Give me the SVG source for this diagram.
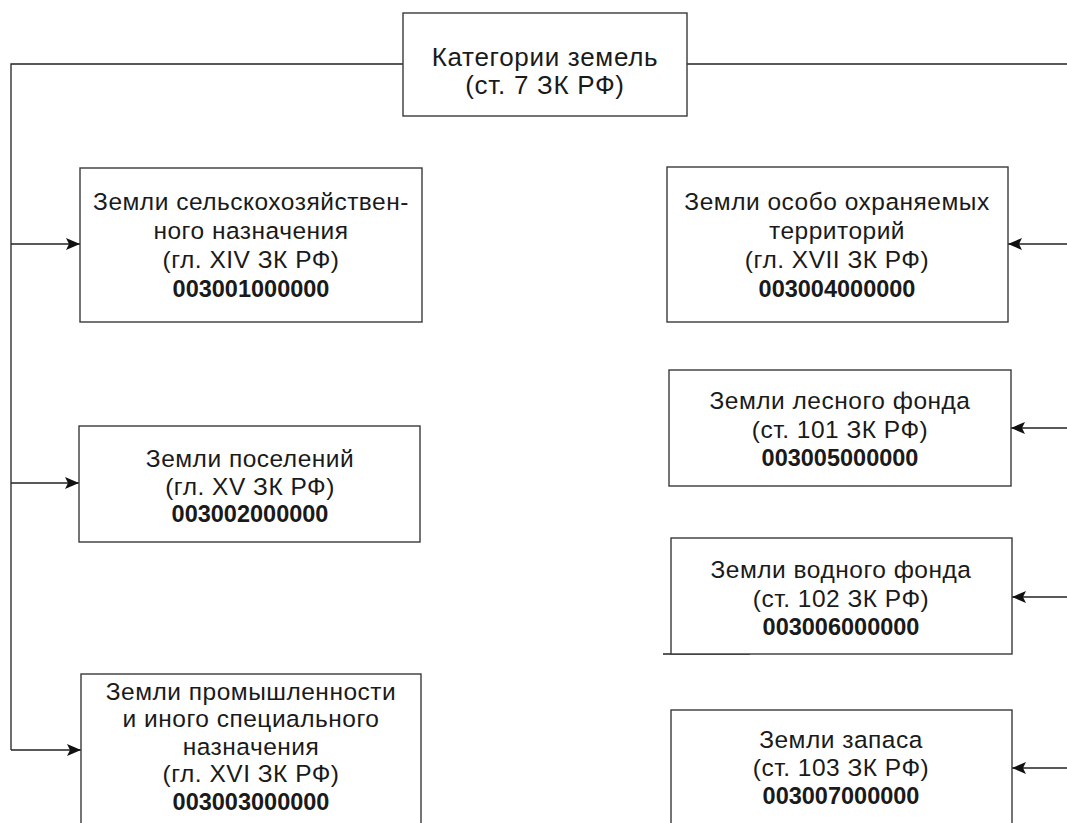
<svg xmlns="http://www.w3.org/2000/svg" width="1067" height="823" viewBox="0 0 1067 823">
<style>
.box{fill:#fff;stroke:#3a3a3a;stroke-width:1.4}
.ln{fill:none;stroke:#222;stroke-width:1.3}
text{font-family:"Liberation Sans",Arial,sans-serif;font-size:24.5px;letter-spacing:0.5px;fill:#1a1a1a;text-anchor:middle}
.b{font-weight:bold;font-size:23.5px;letter-spacing:0}
.t{font-size:26px;letter-spacing:0.7px}
</style>
<defs>
<marker id="ah" viewBox="0 0 14 12" refX="14" refY="6" markerWidth="14" markerHeight="12" markerUnits="userSpaceOnUse" orient="auto">
<path d="M0,0 L14,6 L0,12 L3,6 Z" fill="#111"/>
</marker>
</defs>
<rect width="1067" height="823" fill="#fff"/>
<g id="connectors">
<polyline class="ln" points="403,64 11,64 11,750"/>
<line class="ln" x1="687" y1="64" x2="1067" y2="64"/>
<line class="ln" x1="11" y1="244" x2="80" y2="244" marker-end="url(#ah)"/>
<line class="ln" x1="11" y1="483" x2="79" y2="483" marker-end="url(#ah)"/>
<line class="ln" x1="11" y1="750" x2="81" y2="750" marker-end="url(#ah)"/>
<line class="ln" x1="1067" y1="244" x2="1008" y2="244" marker-end="url(#ah)"/>
<line class="ln" x1="1067" y1="428" x2="1011" y2="428" marker-end="url(#ah)"/>
<line class="ln" x1="1067" y1="597" x2="1012" y2="597" marker-end="url(#ah)"/>
<line class="ln" x1="1067" y1="768" x2="1012" y2="768" marker-end="url(#ah)"/>
<line class="ln" x1="663" y1="654" x2="750" y2="654"/>
</g>
<g id="root">
<rect class="box" x="403" y="13" width="284" height="103"/>
<text class="t" x="545" y="66">Категории земель</text>
<text class="t" x="545" y="94">(ст. 7 ЗК РФ)</text>
</g>
<g id="n1">
<rect class="box" x="80" y="168" width="342" height="154"/>
<text x="251" y="210">Земли сельскохозяйствен-</text>
<text x="251" y="239">ного назначения</text>
<text x="251" y="268">(гл. XIV ЗК РФ)</text>
<text class="b" x="251" y="297">003001000000</text>
</g>
<g id="n2">
<rect class="box" x="79" y="426" width="341" height="116"/>
<text x="250" y="467">Земли поселений</text>
<text x="250" y="495">(гл. XV ЗК РФ)</text>
<text class="b" x="250" y="522">003002000000</text>
</g>
<g id="n3">
<rect class="box" x="81" y="674" width="340" height="170"/>
<text x="251" y="700">Земли промышленности</text>
<text x="251" y="727">и иного специального</text>
<text x="251" y="755">назначения</text>
<text x="251" y="782">(гл. XVI ЗК РФ)</text>
<text class="b" x="251" y="810">003003000000</text>
</g>
<g id="n4">
<rect class="box" x="667" y="167" width="341" height="155"/>
<text x="837" y="210">Земли особо охраняемых</text>
<text x="837" y="239">территорий</text>
<text x="837" y="268">(гл. XVII ЗК РФ)</text>
<text class="b" x="837" y="297">003004000000</text>
</g>
<g id="n5">
<rect class="box" x="669" y="370" width="342" height="116"/>
<text x="840" y="409">Земли лесного фонда</text>
<text x="840" y="438">(ст. 101 ЗК РФ)</text>
<text class="b" x="840" y="466">003005000000</text>
</g>
<g id="n6">
<rect class="box" x="671" y="538" width="341" height="116"/>
<text x="841" y="578">Земли водного фонда</text>
<text x="841" y="607">(ст. 102 ЗК РФ)</text>
<text class="b" x="841" y="635">003006000000</text>
</g>
<g id="n7">
<rect class="box" x="671" y="710" width="341" height="140"/>
<text x="841" y="748">Земли запаса</text>
<text x="841" y="776">(ст. 103 ЗК РФ)</text>
<text class="b" x="841" y="804">003007000000</text>
</g>
</svg>
